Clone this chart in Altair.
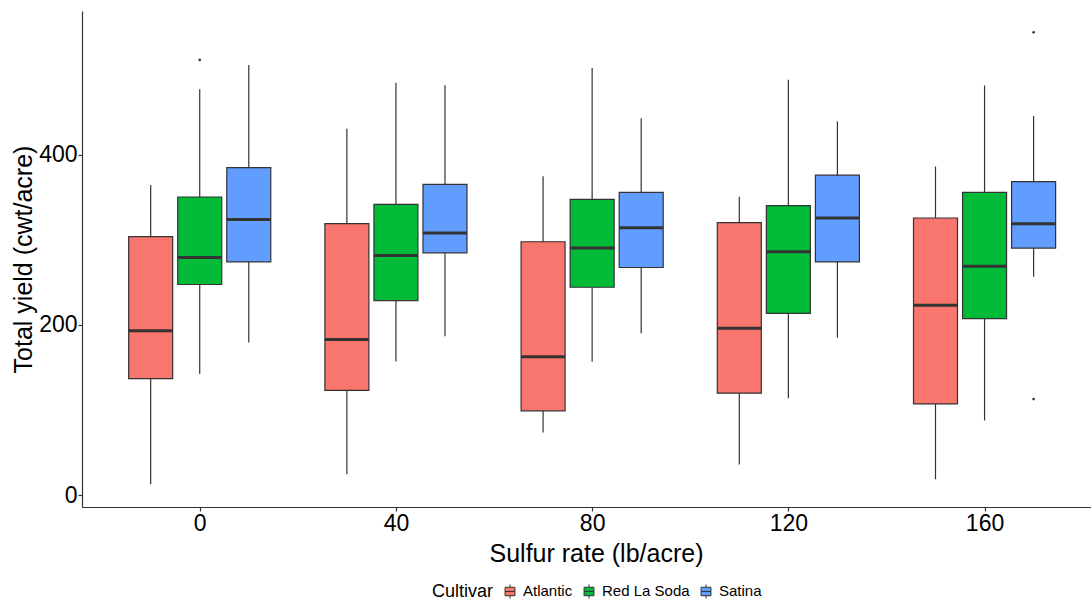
import altair as alt
import pandas as pd

rates = [0, 40, 80, 120, 160]
cultivars = ["Atlantic", "Red La Soda", "Satina"]
colors = ["#F8766D", "#00BA38", "#619CFF"]

# per rate, per cultivar (Atlantic, Red La Soda, Satina)
lower = [12.6, 142.2, 179.5,  24.4, 157.0, 186.6,  73.5, 156.7, 190.1,  36.1, 113.9, 185.0,  18.5, 87.6, 256.6]
q1 =    [137.0, 247.5, 274.2, 123.0, 228.6, 284.8, 99.0, 244.3, 267.5, 119.8, 213.7, 274.2, 107.2, 207.4, 290.3]
median = [193.3, 279.3, 324.0, 183.0, 281.7, 308.0, 162.6, 290.3, 314.3, 196.0, 286.0, 325.6, 223.1, 269.1, 319.0]
q3 =    [303.7, 350.4, 385.0, 319.0, 341.8, 365.3, 297.8, 347.7, 355.9, 320.2, 340.2, 376.0, 325.7, 355.9, 368.5]
upper = [364.5, 477.0, 505.6, 430.6, 484.8, 481.6, 374.8, 502.0, 443.0, 350.8, 488.3, 439.2, 386.2, 481.3, 445.5]

out_rate = [0, 160, 160]
out_cultivar = ["Red La Soda", "Satina", "Satina"]
out_value = [511.5, 544.0, 112.8]

rows = []
i = 0
for r in rates:
    for c in cultivars:
        rows.append(dict(rate=r, cultivar=c, lower=lower[i], q1=q1[i],
                         median=median[i], q3=q3[i], upper=upper[i]))
        i += 1
box_df = pd.DataFrame(rows)
out_df = pd.DataFrame(dict(rate=out_rate, cultivar=out_cultivar, value=out_value))

dodge = "datum.rate + (datum.cultivar == 'Atlantic' ? -10 : (datum.cultivar == 'Satina' ? 10 : 0))"

xscale = alt.Scale(domain=[-24, 181.7], nice=False, zero=False, padding=0)
yscale = alt.Scale(domain=[-14, 569], nice=False, zero=False, padding=0)

x_axis = alt.Axis(values=rates, title="Sulfur rate (lb/acre)", grid=False,
                  titleX=514, titleY=54.7, titleBaseline="alphabetic",
                  tickSize=4, labelPadding=1)
y_axis = alt.Axis(values=[0, 200, 400], title="Total yield (cwt/acre)", grid=False,
                  titleX=-50.3, titleY=248, titleBaseline="alphabetic",
                  tickSize=4, labelPadding=1)

base = alt.Chart(box_df).transform_calculate(xpos=dodge)

x_enc = alt.X("xpos:Q", scale=xscale, axis=x_axis)

whisk = base.mark_rule(color="#333333", strokeWidth=1.2).encode(
    x=x_enc,
    y=alt.Y("lower:Q", scale=yscale, axis=y_axis),
    y2="upper:Q",
)

boxes = base.mark_bar(size=44, stroke="#333333", strokeWidth=1.2).encode(
    x=x_enc,
    y=alt.Y("q1:Q", scale=yscale, axis=y_axis),
    y2="q3:Q",
    color=alt.Color(
        "cultivar:N",
        scale=alt.Scale(domain=cultivars, range=colors),
        legend=alt.Legend(
            title="Cultivar", orient="none", direction="horizontal",
            titleOrient="left", legendX=350, legendY=572,
            symbolType="M-0.7,-0.6H0.7V0.6H-0.7Z M0,-0.6V-1 M0,0.6V1 M-0.7,0H0.7",
            symbolSize=200, symbolStrokeColor="#333333", symbolStrokeWidth=1,
            symbolOpacity=1, labelFontSize=15, titleFontSize=18,
            titleFontWeight="normal", titlePadding=8, columnPadding=8,
            labelOffset=5, titleBaseline="middle",
        ),
    ),
)

meds = base.mark_tick(orient="horizontal", size=44, thickness=3, color="#333333", opacity=1).encode(
    x=x_enc,
    y=alt.Y("median:Q", scale=yscale, axis=y_axis),
)

outs = alt.Chart(out_df).transform_calculate(xpos=dodge).mark_circle(
    size=7, color="#333333", opacity=1
).encode(
    x=x_enc,
    y=alt.Y("value:Q", scale=yscale, axis=y_axis),
)

chart = alt.layer(whisk, boxes, meds, outs).properties(
    width=1009, height=496,
    autosize=alt.AutoSizeParams(type="none"),
    padding={"left": 82, "top": 11, "right": 0, "bottom": 93},
    background="white",
).configure_view(stroke=None).configure_axis(
    domainColor="#333333", domainWidth=1.2, tickColor="#333333", tickWidth=1.2,
    labelColor="black", labelFontSize=23, labelFont="Liberation Sans",
    titleFont="Liberation Sans", titleFontSize=25, titleFontWeight="normal",
    titleColor="black",
).configure_legend(
    labelFont="Liberation Sans", titleFont="Liberation Sans",
    labelColor="black", titleColor="black",
)

chart.save("out.html", embed_options={"renderer": "svg", "actions": False})
